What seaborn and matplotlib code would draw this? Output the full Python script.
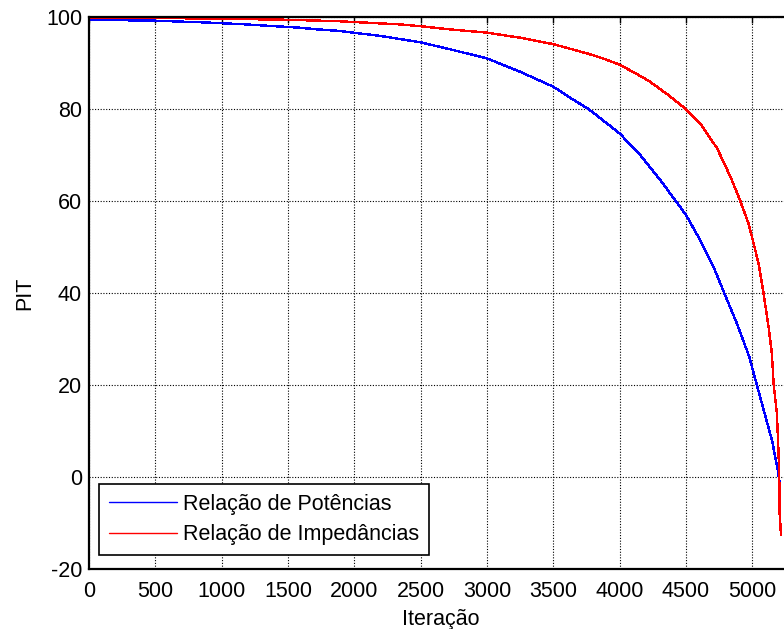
import matplotlib
matplotlib.use("Agg")
import matplotlib.pyplot as plt
import seaborn as sns
import pandas as pd

# PIT over the iterations, power-ratio criterion
pot_iter = [0, 500, 890, 1177, 1403, 1576, 1727, 1878, 1991, 2195, 2345, 2500,
            2748, 3000, 3250, 3500, 3652, 3766, 4000, 4155, 4306, 4500, 4608,
            4708, 4789, 4884, 4977, 5035, 5086, 5149, 5193, 5211]
pot_pit = [99.4, 99.2, 98.8, 98.4, 98.0, 97.7, 97.3, 97.0, 96.6, 95.9, 95.2, 94.5,
           92.8, 91.0, 88.1, 84.85, 82.0, 80.0, 74.7, 70.0, 64.6, 57.0, 51.5,
           45.7, 40.0, 33.4, 26.2, 20.0, 14.6, 8.0, 1.5, -2.0]

# PIT over the iterations, impedance-ratio criterion
imp_iter = [0, 812, 1500, 1893, 2170, 2345, 2500, 2722, 3000, 3250, 3500, 3753,
            3854, 4000, 4155, 4231, 4369, 4500, 4608, 4734, 4784, 4846, 4910,
            4972, 5000, 5048, 5085, 5123, 5148, 5162, 5173, 5186, 5198, 5204,
            5206, 5217]
imp_pit = [99.85, 99.7, 99.4, 99.07, 98.65, 98.4, 98.0, 97.3, 96.6, 95.5, 94.1, 92.1,
           91.2, 89.65, 87.2, 85.9, 83.0, 80.0, 76.9, 71.5, 68.5, 64.6, 60.0,
           55.1, 52.0, 46.4, 40.0, 32.7, 26.9, 20.0, 17.2, 13.9, 5.5, 0.0,
           -7.5, -12.6]

series_names = ["Relação de Potências", "Relação de Impedâncias"]
series_colors = ["#0000FF", "#FF0000"]

x_ticks = list(range(0, 5001, 500))
y_ticks = list(range(-20, 101, 20))

df = pd.concat([
    pd.DataFrame({"Iteração": pot_iter, "PIT": pot_pit, "Série": series_names[0]}),
    pd.DataFrame({"Iteração": imp_iter, "PIT": imp_pit, "Série": series_names[1]}),
], ignore_index=True)

sns.set_style("white")
plt.rcParams["font.family"] = ["Liberation Sans", "DejaVu Sans"]
plt.rcParams["axes.unicode_minus"] = False
plt.rcParams["text.color"] = "black"
plt.rcParams["axes.labelcolor"] = "black"

FS = 15.5

fig = plt.figure(figsize=(7.84, 6.29), dpi=100)
ax = fig.add_axes([89 / 784, 60 / 629, 703 / 784, 552 / 629])

sns.lineplot(data=df, x="Iteração", y="PIT", hue="Série", estimator=None,
             sort=False, palette=dict(zip(series_names, series_colors)),
             linewidth=1.0, ax=ax)
for ln in ax.get_lines():
    ln.set_antialiased(False)

ax.set_xlim(0, 5300)
ax.set_ylim(-20, 100)
ax.set_xticks(x_ticks)
ax.set_yticks(y_ticks)
ax.grid(True, color="black", linestyle=(0, (1, 1.5)), linewidth=0.8)
ax.tick_params(direction="in", length=4, width=1, top=True, right=True,
               labelsize=FS, colors="black", labelcolor="black")
ax.tick_params(axis="x", pad=8.5)
ax.tick_params(axis="y", pad=5)
for sp in ax.spines.values():
    sp.set_color("black")
    sp.set_linewidth(1.6)

ax.set_xlabel("Iteração", fontsize=FS, labelpad=5, color="black")
ax.set_ylabel("PIT", fontsize=FS, labelpad=8, color="black")

leg = ax.legend(loc="lower left", bbox_to_anchor=(10 / 703, 14 / 552),
                borderaxespad=0, fontsize=FS, frameon=True, fancybox=False,
                framealpha=1, edgecolor="black", handlelength=3.15,
                handletextpad=0.31, labelspacing=0.45, borderpad=0.45)
leg.get_frame().set_linewidth(1.2)
for t in leg.get_texts():
    t.set_color("black")

fig.savefig("out.png", dpi=100)
